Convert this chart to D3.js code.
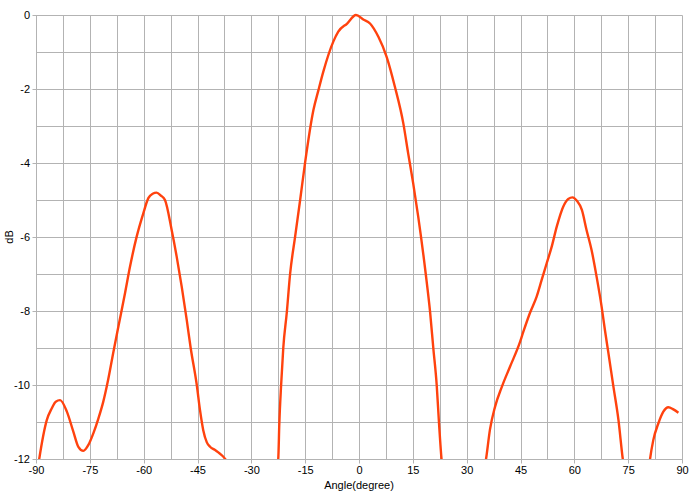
<!DOCTYPE html>
<html>
<head>
<meta charset="utf-8">
<script src="https://cdn.jsdelivr.net/npm/d3@7"></script>
<style>
  html, body { margin: 0; padding: 0; background: #fff; }
  svg { display: block; }
  text { font-family: "Liberation Sans", Arial, sans-serif; font-size: 11px; fill: #000; }
</style>
</head>
<body>
<svg id="chart" width="700" height="495"></svg>
<script>
// ---- data ----
const angles = [
  -90, -89.1, -87.0, -85.6, -84.5, -83.3, -81.4, -79.6, -78.2, -76.8, -75.4, -74.0, -72.6, -71.25, -69.9,
  -68.5, -67.0, -65.2, -63.8, -61.95, -60.1, -58.7, -57.5, -56.4, -55.2, -54.06, -52.2, -50.8, -49.4, -48.0,
  -46.9, -45.2, -44.3, -43.4, -42.4, -41.5, -40.2, -39.2, -38.0, -36.9, -35, -30, -25,
  -22.5, -22.2, -21.7, -21.1, -20.1, -19.2, -17.8, -16.4, -15.05, -12.7, -11.3, -9.94, -7.16, -5.77, -3.3, -0.84,
  1.2, 3.07, 5.4, 7.7, 10.0, 12.35, 13.7, 15.1, 16.5, 18.6, 19.8, 20.7, 21.65, 22.3, 23.0, 25, 30, 34.5,
  35.4, 36.5, 37.9, 39.8, 42.1, 44.9, 45.8, 47.6, 49.5, 50.9, 52.3, 53.7, 55.1, 56.9, 58.3, 59.5, 60.7,
  62.1, 63.4, 64.8, 66.2, 67.6, 68.5, 69.5, 70.9, 72.3, 73.5, 76, 80,
  81.1, 82.0, 83.4, 84.8, 86.2, 87.6, 89.0
];
const gainDb = [
  -12.6, -12.0, -10.95, -10.63, -10.45, -10.41, -10.72, -11.26, -11.67, -11.78, -11.62, -11.3, -10.9, -10.45, -9.86,
  -9.14, -8.4, -7.52, -6.8, -5.99, -5.36, -4.95, -4.83, -4.8, -4.88, -5.0, -5.81, -6.53, -7.34, -8.24,
  -9.0, -10.0, -10.68, -11.22, -11.55, -11.67, -11.75, -11.82, -11.92, -12.05, -12.4, -14, -13.5,
  -12.0, -11.04, -10.0, -9.0, -8.02, -7.0, -5.99, -5.0, -4.01, -2.57, -2.03, -1.53, -0.72, -0.45, -0.23, 0,
  -0.12, -0.23, -0.59, -1.13, -1.94, -2.93, -3.74, -4.55, -5.45, -7.0, -8.02, -9.0, -10.0, -11.04, -12.0, -13, -14, -12.5,
  -12.0, -11.2, -10.59, -10.05, -9.5, -8.83, -8.56, -8.06, -7.61, -7.16, -6.71, -6.26, -5.72, -5.18, -4.97, -4.93, -5.02,
  -5.27, -5.81, -6.35, -7.07, -7.88, -8.5, -9.14, -10.05, -10.95, -12.0, -13, -13,
  -12.0, -11.49, -11.04, -10.72, -10.6, -10.66, -10.75
];
const xTicks = [-90, -75, -60, -45, -30, -15, 0, 15, 30, 45, 60, 75, 90];
const yTicks = [0, -2, -4, -6, -8, -10, -12];
const xTitle = "Angle(degree)";
const yTitle = "dB";

// ---- chart ----
const svg = d3.select("#chart");
const L = 36, R = 682, T = 15, B = 459;
const x = d3.scaleLinear().domain([-90, 90]).range([L, R]);
const y = d3.scaleLinear().domain([-12, 0]).range([B, T]);
const gridColor = "#b3b3b3";

const g = svg.append("g").attr("transform", "translate(0.5,0.5)");

// vertical grid every 7.5 deg
const vGrid = d3.range(-90, 90.01, 7.5);
g.append("g").selectAll("line").data(vGrid).join("line")
  .attr("x1", d => Math.round(x(d))).attr("x2", d => Math.round(x(d)))
  .attr("y1", T).attr("y2", d => (d % 15 === 0) ? B + 4 : B)
  .attr("stroke", gridColor).attr("stroke-width", 1);

// horizontal grid every 1 dB
const hGrid = d3.range(-12, 0.01, 1);
g.append("g").selectAll("line").data(hGrid).join("line")
  .attr("y1", d => Math.round(y(d))).attr("y2", d => Math.round(y(d)))
  .attr("x1", d => (d % 2 === 0) ? L - 4 : L).attr("x2", R)
  .attr("stroke", gridColor).attr("stroke-width", 1);

const fmt = d => String(d);

const xAxis = svg.append("g").attr("transform", `translate(0,${B})`)
  .call(d3.axisBottom(x).tickValues(xTicks).tickSize(0).tickPadding(7).tickFormat(fmt));
xAxis.select(".domain").remove();
xAxis.selectAll("text").attr("font-family", "Liberation Sans, Arial, sans-serif").attr("font-size", 11).attr("fill", "#000");

const yAxis = svg.append("g").attr("transform", `translate(${L},0)`)
  .call(d3.axisLeft(y).tickValues(yTicks).tickSize(0).tickPadding(6).tickFormat(fmt));
yAxis.select(".domain").remove();
yAxis.selectAll("text").attr("font-family", "Liberation Sans, Arial, sans-serif").attr("font-size", 11).attr("fill", "#000");

// titles
svg.append("text").attr("x", (L + R) / 2).attr("y", 489).attr("text-anchor", "middle").text(xTitle);
svg.append("text").attr("transform", `translate(13,${(T + B) / 2}) rotate(-90)`)
  .attr("text-anchor", "middle").text(yTitle);

// clip
svg.append("clipPath").attr("id", "plotclip").append("rect")
  .attr("x", L).attr("y", T - 2).attr("width", R - L).attr("height", B - T + 2);

const pts = angles.map((a, i) => [a, gainDb[i]]);
const line = d3.line().x(d => x(d[0])).y(d => y(d[1])).curve(d3.curveMonotoneX);
svg.append("path").datum(pts)
  .attr("clip-path", "url(#plotclip)")
  .attr("d", line)
  .attr("fill", "none").attr("stroke", "#ff420e").attr("stroke-width", 2.4)
  .attr("stroke-linejoin", "round");
</script>
</body>
</html>
